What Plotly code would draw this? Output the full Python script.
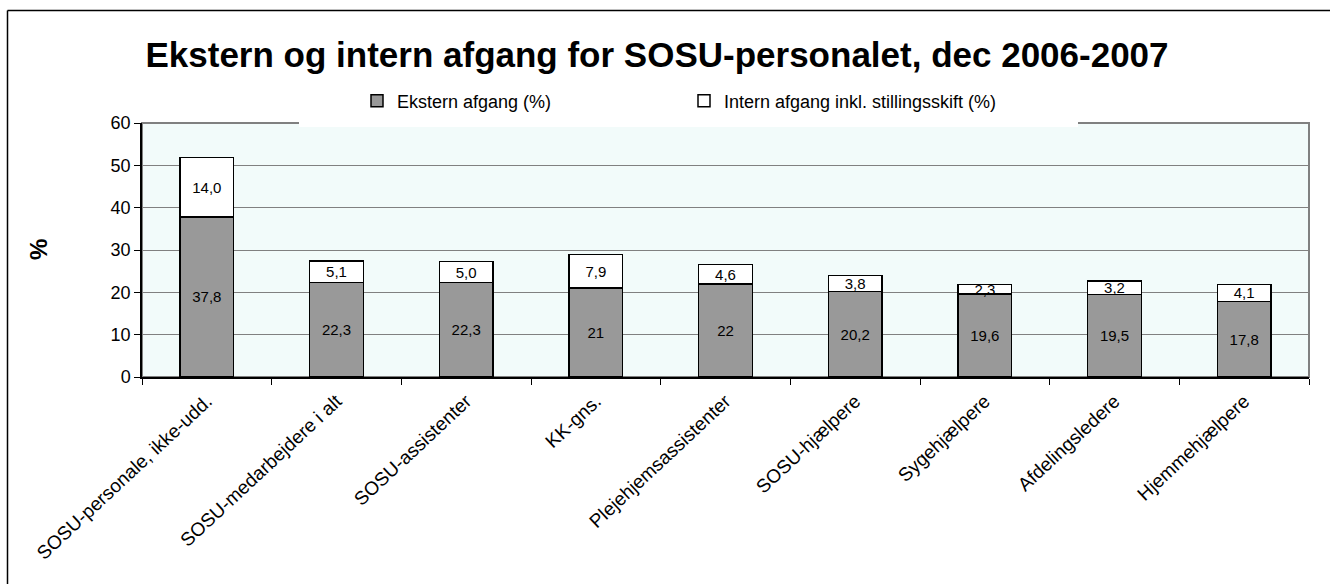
import plotly.graph_objects as go

# ---------------------------
# Datos
# ---------------------------
kategorier = [
    "SOSU-personale, ikke-udd.",
    "SOSU-medarbejdere i alt",
    "SOSU-assistenter",
    "KK-gns.",
    "Plejehjemsassistenter",
    "SOSU-hjælpere",
    "Sygehjælpere",
    "Afdelingsledere",
    "Hjemmehjælpere",
]
ekstern = [37.8, 22.3, 22.3, 21, 22, 20.2, 19.6, 19.5, 17.8]
intern = [14.0, 5.1, 5.0, 7.9, 4.6, 3.8, 2.3, 3.2, 4.1]
ekstern_txt = ["37,8", "22,3", "22,3", "21", "22", "20,2", "19,6", "19,5", "17,8"]
intern_txt = ["14,0", "5,1", "5,0", "7,9", "4,6", "3,8", "2,3", "3,2", "4,1"]
y_ticks = [0, 10, 20, 30, 40, 50, 60]

FONT = "Arial, Liberation Sans, sans-serif"

# ---------------------------
# Figura
# ---------------------------
fig = go.Figure()

fig.add_trace(go.Bar(
    x=kategorier, y=ekstern, name="Ekstern afgang (%)",
    marker=dict(color="#999999", line=dict(color="black", width=1.5)),
    text=ekstern_txt, textposition="inside", insidetextanchor="middle",
    textfont=dict(color="black", size=15, family=FONT),
    hoverinfo="skip",
))
fig.add_trace(go.Bar(
    x=kategorier, y=intern, name="Intern afgang inkl. stillingsskift (%)",
    marker=dict(color="white", line=dict(color="black", width=1.5)),
    text=intern_txt, textposition="inside", insidetextanchor="middle",
    textfont=dict(color="black", size=15, family=FONT),
    hoverinfo="skip",
))

# helpers px -> paper (plot area 142..1309 x 123..377)
def px_x(v):
    return (v - 142) / 1167

def px_y(v):
    return (377 - v) / 254

shapes = [
    # ramme om plotomraadet (graa)
    dict(type="rect", xref="paper", yref="paper", x0=0, x1=1, y0=0, y1=1,
         line=dict(color="#808080", width=2), layer="below"),
    # hvid legende-boks
    dict(type="rect", xref="paper", yref="paper",
         x0=px_x(299), x1=px_x(1078), y0=px_y(127), y1=px_y(92),
         fillcolor="white", line=dict(width=0), layer="above"),
    # ydre ramme (venstre + top)
    dict(type="line", xref="paper", yref="paper",
         x0=px_x(7.5), x1=px_x(1335), y0=px_y(10.5), y1=px_y(10.5),
         line=dict(color="black", width=1.5)),
    dict(type="line", xref="paper", yref="paper",
         x0=px_x(7.5), x1=px_x(7.5), y0=px_y(10.5), y1=px_y(590),
         line=dict(color="black", width=1.5)),
]

fig.update_layout(
    width=1330, height=584,
    barmode="stack", bargap=0.585,
    paper_bgcolor="white", plot_bgcolor="#F2FBFA",
    margin=dict(l=142, r=21, t=123, b=207),
    font=dict(family=FONT, color="black"),
    title=dict(
        text="<b>Ekstern og intern afgang for SOSU-personalet, dec 2006-2007</b>",
        x=0.494, xanchor="center", y=0.907, yanchor="middle",
        font=dict(size=35, family=FONT, color="black"),
    ),
    legend=dict(
        orientation="h", x=px_x(357), xanchor="left",
        y=px_y(101), yanchor="middle",
        entrywidth=282, entrywidthmode="pixels",
        bgcolor="rgba(0,0,0,0)", font=dict(size=18, family=FONT),
        traceorder="normal",
    ),
    showlegend=True,
    uniformtext=dict(minsize=15, mode="show"),
    shapes=shapes,
    annotations=[dict(
        text="<b>%</b>", xref="paper", yref="paper", x=px_x(38), y=0.5,
        xanchor="center", yanchor="middle",
        textangle=-90, showarrow=False, font=dict(size=24, family=FONT),
    )],
)

fig.update_xaxes(
    type="category", showline=True, linecolor="black", linewidth=1.5,
    ticks="outside", tickson="boundaries", ticklen=6, tickcolor="black",
    tickangle=-43, tickfont=dict(size=19, family=FONT), showgrid=False,
    ticklabelstandoff=4,
)
fig.update_yaxes(
    range=[0, 60], tickvals=y_ticks, showline=True, linecolor="black",
    linewidth=1.5, ticks="outside", ticklen=6, tickcolor="black",
    showgrid=True, gridcolor="#808080", gridwidth=1,
    tickfont=dict(size=18, family=FONT), zeroline=False,
)

# sin margen del body para que el grafico quede en (0,0)
fig.write_html("out.html", config={"displayModeBar": False},
               post_script="document.body.style.margin='0';")
